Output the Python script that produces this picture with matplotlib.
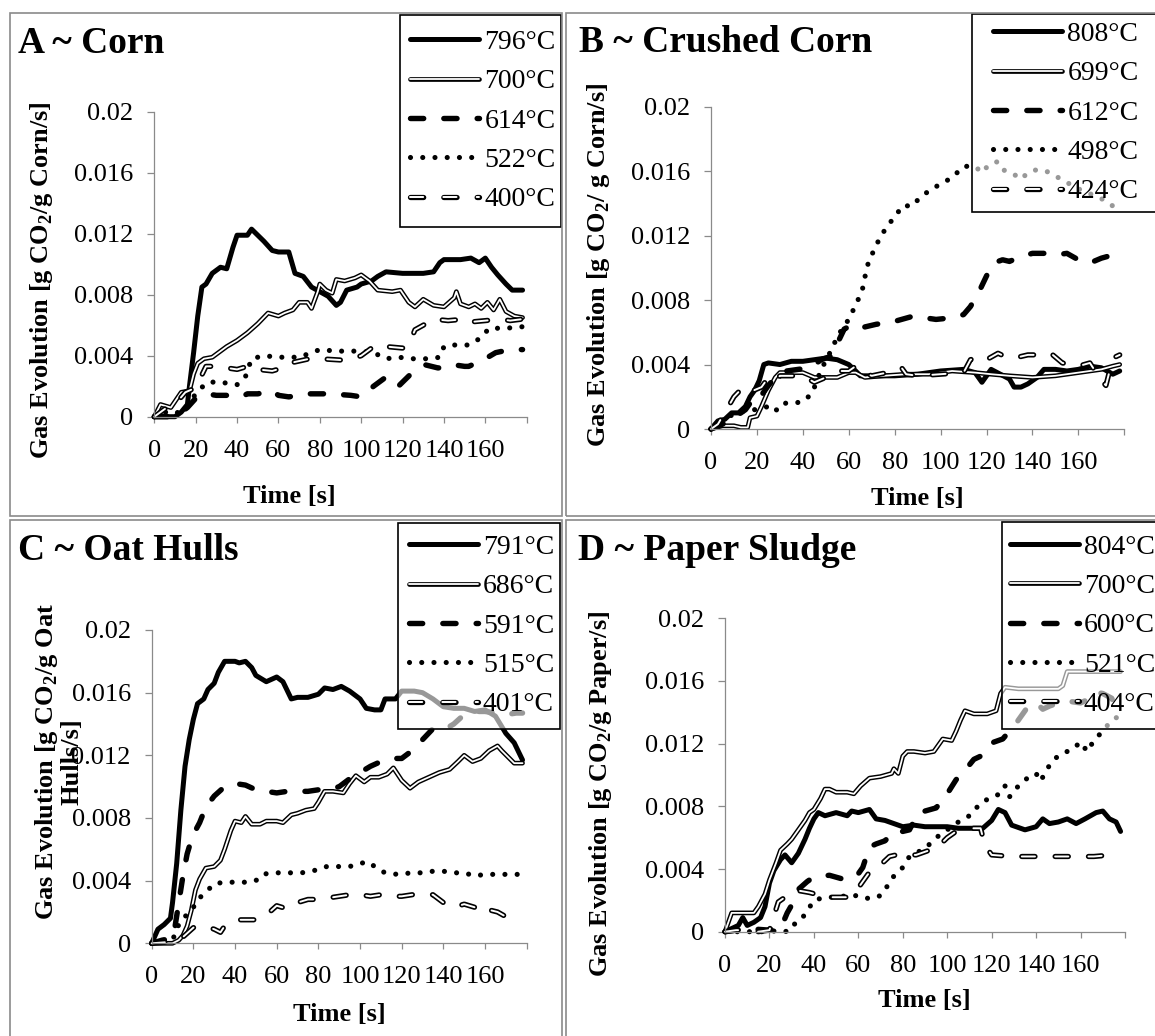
import matplotlib
matplotlib.use("Agg")
import matplotlib.pyplot as plt
from matplotlib.lines import Line2D
from matplotlib.patches import Rectangle
from matplotlib.legend_handler import HandlerTuple

plt.rcParams['font.family'] = ['Liberation Serif', 'DejaVu Serif']
plt.rcParams['mathtext.fontset'] = 'custom'
plt.rcParams['mathtext.rm'] = 'Liberation Serif'
plt.rcParams['mathtext.bf'] = 'Liberation Serif:bold'
plt.rcParams['lines.scale_dashes'] = False

# ---------------- data ----------------
# Panel A - Corn
A796_t = [0, 5, 10, 13, 16, 17, 19, 21, 23, 25, 28, 32, 35, 38, 40, 45, 47, 50, 53, 57, 60, 65, 68, 72, 76, 80, 84, 88, 90, 93, 98, 100, 105, 108, 112, 120, 130, 135, 138, 140, 148, 153, 157, 160, 163, 166, 170, 173, 178]
A796_v = [0, 0, 0, 0.0003, 0.0008, 0.002, 0.0042, 0.0066, 0.0085, 0.0087, 0.0094, 0.0098, 0.0097, 0.0111, 0.0119, 0.0119, 0.0123, 0.0119, 0.0115, 0.0109, 0.0108, 0.0108, 0.0094, 0.0092, 0.0085, 0.0082, 0.0079, 0.0073, 0.0075, 0.0083, 0.0085, 0.0087, 0.0089, 0.0092, 0.0095, 0.0094, 0.0094, 0.0095, 0.0101, 0.0103, 0.0103, 0.0104, 0.0101, 0.0104, 0.0098, 0.0093, 0.0087, 0.0083, 0.0083]
A700_t = [0, 3, 8, 10, 13, 17, 19, 21, 24, 28, 31, 35, 40, 45, 50, 55, 60, 63, 67, 70, 74, 76, 79, 80, 83, 86, 88, 92, 97, 100, 104, 108, 115, 119, 123, 126, 130, 135, 140, 145, 146, 148, 152, 155, 158, 161, 164, 167, 170, 174, 178]
A700_v = [0, 0.0008, 0.0006, 0.001, 0.0016, 0.0017, 0.0028, 0.0035, 0.0038, 0.0039, 0.0042, 0.0046, 0.005, 0.0055, 0.0061, 0.0068, 0.0066, 0.0068, 0.007, 0.0075, 0.0075, 0.0071, 0.0082, 0.0087, 0.0083, 0.0081, 0.009, 0.0089, 0.0091, 0.0093, 0.0089, 0.0083, 0.0082, 0.0083, 0.0075, 0.0072, 0.0077, 0.0073, 0.0072, 0.0078, 0.0082, 0.0074, 0.0072, 0.0074, 0.0071, 0.0075, 0.007, 0.0077, 0.0069, 0.0066, 0.0065]
A614_t = [0, 8, 12, 16, 20, 25, 30, 35, 42, 45, 50, 57, 60, 65, 75, 85, 95, 100, 106, 112, 115, 118, 124, 131, 137, 140, 145, 150, 152, 160, 165, 172, 178]
A614_v = [0, 0, 0.0002, 0.0006, 0.0012, 0.0015, 0.0014, 0.0014, 0.0013, 0.0015, 0.0015, 0.0017, 0.0014, 0.0013, 0.0015, 0.0015, 0.0014, 0.0013, 0.002, 0.0026, 0.0023, 0.002, 0.0028, 0.0034, 0.0032, 0.0032, 0.0034, 0.0033, 0.0033, 0.0038, 0.0042, 0.0044, 0.0044]
A522_t = [0, 5, 10, 15, 20, 25, 30, 35, 40, 44, 47, 53, 60, 70, 80, 88, 95, 100, 106, 112, 118, 125, 133, 138, 140, 145, 152, 157, 162, 170, 178]
A522_v = [0, 0.0003, 0.0002, 0.0005, 0.0015, 0.0022, 0.0023, 0.0022, 0.0021, 0.0026, 0.0038, 0.004, 0.0039, 0.0039, 0.0044, 0.0043, 0.0043, 0.0043, 0.0042, 0.0038, 0.0039, 0.0038, 0.0038, 0.0039, 0.0046, 0.0047, 0.0047, 0.0051, 0.0058, 0.0058, 0.0059]
A400_t = [0, 5, 10, 15, 20, 25, 30, 40, 45, 50, 57, 62, 65, 75, 80, 92, 96, 100, 107, 112, 120, 123, 126, 130, 135, 142, 150, 152, 160, 167, 172, 178]
A400_v = [0, 0.0005, 0.0008, 0.0016, 0.0019, 0.0033, 0.0033, 0.0031, 0.0033, 0.0031, 0.003, 0.0032, 0.0035, 0.0038, 0.0038, 0.0037, 0.0038, 0.004, 0.0047, 0.0046, 0.0045, 0.0047, 0.0057, 0.006, 0.0064, 0.0063, 0.0064, 0.0062, 0.0063, 0.0064, 0.0063, 0.0064]

# Panel B - Crushed corn
B808_t = [0, 3, 6, 9, 12, 15, 17, 19, 21, 23, 25, 30, 35, 40, 45, 50, 55, 60, 63, 65, 70, 80, 90, 100, 110, 115, 118, 122, 126, 130, 132, 135, 138, 142, 145, 150, 155, 160, 165, 170, 175, 178]
B808_v = [0, 0.0005, 0.0006, 0.001, 0.001, 0.0014, 0.002, 0.0024, 0.003, 0.004, 0.0041, 0.004, 0.0042, 0.0042, 0.0043, 0.0044, 0.0043, 0.004, 0.0036, 0.0033, 0.0033, 0.0033, 0.0034, 0.0036, 0.0037, 0.0035, 0.0029, 0.0037, 0.0034, 0.0031, 0.0026, 0.0026, 0.0028, 0.0032, 0.0037, 0.0037, 0.0036, 0.0037, 0.0039, 0.0038, 0.0034, 0.0036]
B699_t = [0, 5, 10, 13, 16, 17, 20, 22, 25, 28, 30, 35, 40, 45, 50, 55, 60, 63, 67, 75, 85, 95, 105, 115, 122, 130, 140, 150, 160, 170, 175, 178]
B699_v = [0, 0.0002, 0.0002, 0.0001, 0.0001, 0.0007, 0.0008, 0.0014, 0.0024, 0.0032, 0.0035, 0.0035, 0.0035, 0.0032, 0.0032, 0.0032, 0.0035, 0.0035, 0.0032, 0.0033, 0.0034, 0.0034, 0.0036, 0.0035, 0.0034, 0.0033, 0.0032, 0.0033, 0.0035, 0.0037, 0.0039, 0.004]
B612_t = [0, 5, 10, 15, 18, 20, 25, 28, 33, 38, 43, 48, 52, 55, 58, 62, 66, 72, 78, 83, 88, 93, 98, 105, 110, 113, 117, 120, 123, 127, 130, 135, 140, 145, 150, 155, 160, 165, 170, 175, 178]
B612_v = [0, 0.0003, 0.0007, 0.0012, 0.0018, 0.0017, 0.0027, 0.0032, 0.0036, 0.0037, 0.0038, 0.0043, 0.0045, 0.0053, 0.0062, 0.0065, 0.0063, 0.0065, 0.0066, 0.0068, 0.007, 0.0069, 0.0068, 0.0069, 0.0071, 0.0076, 0.0086, 0.0095, 0.0103, 0.0105, 0.0104, 0.0107, 0.0109, 0.0109, 0.0108, 0.0109, 0.0105, 0.0103, 0.0106, 0.0108, 0.0105]
B498_t = [0, 3, 8, 12, 16, 20, 25, 28, 31, 36, 40, 44, 48, 51, 54, 57, 60, 62, 64, 66, 68, 70, 72, 74, 77, 80, 84, 87, 90, 95, 100, 105, 110, 115, 118, 121, 125, 128, 132, 135, 138, 142, 146, 150, 155, 160, 165, 170, 174, 178]
B498_v = [0, 0.0004, 0.0008, 0.001, 0.0012, 0.0012, 0.0014, 0.0011, 0.0016, 0.0016, 0.0017, 0.0022, 0.0037, 0.0045, 0.0054, 0.0062, 0.0068, 0.0074, 0.008, 0.0087, 0.0101, 0.0108, 0.0114, 0.012, 0.0126, 0.0132, 0.0139, 0.0138, 0.0142, 0.0148, 0.0152, 0.0156, 0.0163, 0.0163, 0.0159, 0.0164, 0.0166, 0.016, 0.0158, 0.0155, 0.0159, 0.0161, 0.016, 0.0157, 0.0153, 0.0149, 0.0146, 0.0143, 0.0139, 0.0137]
B424_t = [0, 3, 8, 10, 14, 17, 22, 25, 28, 30, 35, 40, 45, 50, 55, 60, 63, 65, 70, 80, 83, 85, 90, 100, 110, 113, 117, 120, 125, 128, 132, 138, 142, 148, 153, 160, 165, 170, 172, 175, 178]
B424_v = [0, 0.0003, 0.0015, 0.002, 0.0026, 0.0023, 0.0026, 0.0032, 0.003, 0.0033, 0.0033, 0.0033, 0.0029, 0.0032, 0.0036, 0.0036, 0.0039, 0.0036, 0.0033, 0.0036, 0.0038, 0.0034, 0.0033, 0.0034, 0.0035, 0.0043, 0.0045, 0.0043, 0.0047, 0.0045, 0.0044, 0.0046, 0.0046, 0.0047, 0.0041, 0.0039, 0.0041, 0.003, 0.0027, 0.0044, 0.0046]

# Panel C - Oat hulls
C791_t = [0, 3, 6, 9, 10, 12, 14, 16, 18, 20, 22, 25, 27, 30, 32, 35, 40, 42, 45, 48, 50, 55, 60, 63, 67, 70, 75, 80, 83, 87, 91, 95, 100, 103, 107, 110, 112, 117, 120, 126, 130, 135, 140, 145, 150, 155, 160, 165, 170, 174, 178]
C791_v = [0, 0.0009, 0.0012, 0.0016, 0.0026, 0.0051, 0.0085, 0.0113, 0.013, 0.0143, 0.0153, 0.0156, 0.0162, 0.0166, 0.0173, 0.018, 0.018, 0.0179, 0.018, 0.0176, 0.0171, 0.0167, 0.017, 0.0167, 0.0156, 0.0157, 0.0157, 0.0159, 0.0163, 0.0162, 0.0164, 0.0161, 0.0156, 0.015, 0.0149, 0.0149, 0.0156, 0.0156, 0.0161, 0.0161, 0.016, 0.0156, 0.0151, 0.015, 0.015, 0.0148, 0.0149, 0.0145, 0.0134, 0.0128, 0.0117]
C686_t = [0, 10, 13, 15, 17, 19, 21, 23, 26, 30, 33, 35, 38, 40, 43, 45, 48, 52, 55, 60, 63, 67, 70, 74, 78, 80, 83, 87, 92, 95, 98, 102, 105, 109, 113, 116, 120, 124, 128, 133, 138, 143, 147, 150, 154, 158, 162, 166, 168, 171, 174, 178]
C686_v = [0, 0, 0.0002, 0.0005, 0.0011, 0.0021, 0.0034, 0.0041, 0.0048, 0.0049, 0.0053, 0.006, 0.0072, 0.0078, 0.0077, 0.0081, 0.0076, 0.0076, 0.0078, 0.0078, 0.0077, 0.0082, 0.0083, 0.0085, 0.0086, 0.009, 0.0097, 0.0097, 0.0096, 0.0102, 0.0107, 0.0103, 0.0106, 0.0106, 0.0108, 0.0112, 0.0104, 0.0099, 0.0103, 0.0106, 0.0109, 0.0111, 0.0116, 0.012, 0.0116, 0.0118, 0.0123, 0.0126, 0.0123, 0.0119, 0.0115, 0.0115]
C591_t = [0, 5, 9, 11, 13, 15, 17, 19, 21, 23, 26, 30, 35, 40, 45, 50, 55, 60, 65, 70, 75, 80, 85, 90, 95, 100, 105, 110, 115, 120, 125, 130, 135, 140, 145, 150, 155, 160, 165, 170, 175, 178]
C591_v = [0, 0.0002, 0.0003, 0.0009, 0.0026, 0.0043, 0.0057, 0.0066, 0.0072, 0.0077, 0.0087, 0.0094, 0.01, 0.0102, 0.0101, 0.0098, 0.0097, 0.0096, 0.0097, 0.0097, 0.0097, 0.0098, 0.0098, 0.01, 0.0105, 0.0109, 0.0113, 0.0116, 0.0118, 0.0118, 0.0123, 0.013, 0.0137, 0.0136, 0.014, 0.0146, 0.0148, 0.0148, 0.0147, 0.0146, 0.0147, 0.0147]
C515_t = [0, 10, 13, 16, 20, 23, 27, 30, 35, 40, 45, 50, 53, 58, 65, 72, 80, 84, 90, 95, 100, 104, 108, 112, 118, 125, 130, 135, 140, 145, 150, 155, 160, 165, 170, 176]
C515_v = [0, 0.0002, 0.0012, 0.0017, 0.0023, 0.0029, 0.0034, 0.0038, 0.0039, 0.0039, 0.0039, 0.004, 0.0044, 0.0045, 0.0045, 0.0045, 0.0047, 0.0049, 0.0049, 0.0049, 0.0051, 0.0052, 0.0048, 0.0045, 0.0044, 0.0045, 0.0045, 0.0046, 0.0046, 0.0045, 0.0045, 0.0043, 0.0044, 0.0044, 0.0044, 0.0044]
C401_t = [0, 10, 15, 20, 25, 30, 33, 35, 40, 45, 50, 55, 60, 65, 70, 75, 80, 85, 95, 100, 105, 110, 115, 120, 125, 130, 135, 140, 145, 150, 155, 160, 163, 166, 170, 175, 178]
C401_v = [0, 0.0001, 0.0004, 0.001, 0.0011, 0.0009, 0.0007, 0.0011, 0.0015, 0.0015, 0.0015, 0.0018, 0.0024, 0.0022, 0.0026, 0.0028, 0.0028, 0.0029, 0.0031, 0.0031, 0.003, 0.0031, 0.003, 0.003, 0.0031, 0.0031, 0.0031, 0.0026, 0.0023, 0.0025, 0.0023, 0.0025, 0.0021, 0.002, 0.0017, 0.0015, 0.0015]

# Panel D - Paper sludge
D804_t = [0, 3, 6, 8, 10, 13, 16, 18, 20, 22, 25, 27, 30, 33, 36, 38, 40, 42, 45, 50, 55, 57, 60, 65, 68, 72, 76, 80, 85, 90, 95, 100, 105, 110, 116, 120, 123, 126, 129, 135, 140, 143, 146, 150, 154, 158, 162, 167, 170, 173, 176, 178]
D804_v = [0, 0.0002, 0.0004, 0.0009, 0.0004, 0.0006, 0.0009, 0.0016, 0.0031, 0.0039, 0.0046, 0.0049, 0.0044, 0.005, 0.0059, 0.0066, 0.0072, 0.0076, 0.0074, 0.0076, 0.0074, 0.0077, 0.0076, 0.0078, 0.0072, 0.0071, 0.0069, 0.0067, 0.0068, 0.0067, 0.0067, 0.0067, 0.0066, 0.0066, 0.0066, 0.0071, 0.0078, 0.0076, 0.0068, 0.0065, 0.0067, 0.0072, 0.0069, 0.007, 0.0072, 0.0069, 0.0072, 0.0076, 0.0077, 0.0072, 0.007, 0.0064]
D700_t = [0, 3, 8, 13, 15, 18, 20, 23, 25, 28, 30, 33, 36, 38, 40, 43, 45, 47, 50, 55, 58, 61, 65, 70, 75, 76, 78, 80, 82, 85, 90, 94, 98, 102, 104, 106, 108, 112, 118, 122, 124, 126, 132, 140, 150, 152, 154, 160, 170, 178]
D700_v = [0, 0.0012, 0.0012, 0.0012, 0.0016, 0.0024, 0.0033, 0.0044, 0.0052, 0.0056, 0.0059, 0.0065, 0.0071, 0.0076, 0.0078, 0.0085, 0.0091, 0.0091, 0.0089, 0.0089, 0.0088, 0.0093, 0.0098, 0.0099, 0.0101, 0.0104, 0.0101, 0.0112, 0.0115, 0.0115, 0.0114, 0.0115, 0.0123, 0.0122, 0.0128, 0.0135, 0.0141, 0.0139, 0.0139, 0.0141, 0.0152, 0.0156, 0.0155, 0.0155, 0.0155, 0.0157, 0.0166, 0.0166, 0.0166, 0.0166]
D600_t = [0, 10, 20, 25, 28, 30, 33, 37, 40, 47, 52, 55, 60, 62, 65, 68, 72, 76, 80, 83, 87, 90, 95, 100, 104, 108, 112, 115, 118, 121, 125, 128, 131, 134, 137, 140, 143, 146, 150, 155, 160, 163, 166, 170, 174, 176, 178]
D600_v = [0, 0.0002, 0.0001, 0.0002, 0.0012, 0.0017, 0.0027, 0.0032, 0.0035, 0.0036, 0.0034, 0.0033, 0.0037, 0.0041, 0.0054, 0.0056, 0.0058, 0.0064, 0.0064, 0.0065, 0.0076, 0.0077, 0.0079, 0.0088, 0.0097, 0.0103, 0.011, 0.0112, 0.0118, 0.0121, 0.0123, 0.0128, 0.0133, 0.0139, 0.0145, 0.0146, 0.0142, 0.0144, 0.0146, 0.0147, 0.0146, 0.0148, 0.0153, 0.0152, 0.0149, 0.0143, 0.0137]
D521_t = [0, 10, 20, 25, 28, 30, 33, 36, 40, 45, 50, 55, 60, 65, 70, 73, 75, 80, 83, 87, 90, 95, 100, 105, 110, 115, 120, 124, 126, 128, 132, 135, 140, 142, 145, 148, 152, 156, 160, 163, 166, 170, 174, 178]
D521_v = [0, 0, 0, 0.0001, 0, 0.0004, 0.0006, 0.0011, 0.002, 0.0022, 0.0022, 0.0023, 0.0023, 0.0021, 0.0023, 0.0029, 0.0034, 0.0041, 0.0048, 0.0051, 0.0053, 0.006, 0.0065, 0.007, 0.0074, 0.0082, 0.0086, 0.0088, 0.0093, 0.0086, 0.0093, 0.0097, 0.0101, 0.0096, 0.0104, 0.011, 0.0114, 0.0116, 0.0121, 0.0115, 0.0122, 0.0128, 0.0135, 0.0138]
D404_t = [0, 5, 10, 15, 20, 22, 24, 26, 30, 34, 38, 46, 50, 56, 60, 65, 71, 74, 77, 86, 92, 95, 100, 105, 110, 115, 117, 120, 129, 139, 148, 157, 166, 174, 178]
D404_v = [0, 0.0001, 0.0001, 0, 0.0001, 0.001, 0.0019, 0.0021, 0.0026, 0.0026, 0.0025, 0.0022, 0.0022, 0.0022, 0.0028, 0.0038, 0.0044, 0.0048, 0.0049, 0.0049, 0.0052, 0.0053, 0.006, 0.0065, 0.0066, 0.0066, 0.0055, 0.0049, 0.0048, 0.0048, 0.0048, 0.0048, 0.0048, 0.0049, 0.0049]

titles = ["A ~ Corn", "B ~ Crushed Corn", "C ~ Oat Hulls", "D ~ Paper Sludge"]
ylabels = ["Gas Evolution [g CO$_\\mathbf{2}$/g Corn/s]",
           "Gas Evolution [g CO$_\\mathbf{2}$/ g Corn/s]",
           "Gas Evolution [g CO$_\\mathbf{2}$/g Oat\nHulls/s]",
           "Gas Evolution [g CO$_\\mathbf{2}$/g Paper/s]"]
legend_labels = [["796°C", "700°C", "614°C", "522°C", "400°C"],
                 ["808°C", "699°C", "612°C", "498°C", "424°C"],
                 ["791°C", "686°C", "591°C", "515°C", "401°C"],
                 ["804°C", "700°C", "600°C", "521°C", "404°C"]]
series = [[(A796_t, A796_v), (A700_t, A700_v), (A614_t, A614_v), (A522_t, A522_v), (A400_t, A400_v)],
          [(B808_t, B808_v), (B699_t, B699_v), (B612_t, B612_v), (B498_t, B498_v), (B424_t, B424_v)],
          [(C791_t, C791_v), (C686_t, C686_v), (C591_t, C591_v), (C515_t, C515_v), (C401_t, C401_v)],
          [(D804_t, D804_v), (D700_t, D700_v), (D600_t, D600_v), (D521_t, D521_v), (D404_t, D404_v)]]
yticks = [0, 0.004, 0.008, 0.012, 0.016, 0.02]
ytick_labels = ["0", "0.004", "0.008", "0.012", "0.016", "0.02"]
xticks = [0, 20, 40, 60, 80, 100, 120, 140, 160, 180]
xtick_labels = ["0", "20", "40", "60", "80", "100", "120", "140", "160", ""]

# ---------------- layout (pixels) ----------------
W, H = 1155, 1036
fig = plt.figure(figsize=(W / 100, H / 100), dpi=100)

def fx(x):
    return x / W

def fy(y):
    return 1 - y / H

axes_px = [(154.3, 111.7, 526.7, 416.7),
           (711.0, 106.7, 1124.3, 429.0),
           (151.7, 630.0, 526.7, 943.3),
           (725.0, 618.3, 1125.0, 931.7)]
panel_px = [(10, 13, 561.7, 516), (565.7, 13, 1162, 516),
            (10, 520, 561.7, 1042), (565.7, 520, 1162, 1042)]
title_px = [(18, 53), (579, 52), (18, 560), (578, 560)]
ylabel_px = [(42, 280), (599, 265), (58, 762), (601, 794)]
xlabel_px = [(289, 497), (917, 498), (339, 1015), (924, 1001)]
legend_box_px = [(400, 15, 561, 227), (972, 14, 1162, 212),
                 (398, 523, 560, 729), (1002, 522, 1162, 729)]
legend_handle_x = [410, 993, 408.5, 1009.5]

GRAY = '#8a8a8a'
DASH = (9.5, 14.5)
DOT = (0.01, 8.8)


def style_lines(kind):
    if kind == 0:
        return [dict(color='k', lw=3.6, solid_capstyle='round', solid_joinstyle='round')]
    if kind == 1:
        return [dict(color='k', lw=3.4, solid_capstyle='round', solid_joinstyle='round'),
                dict(color='w', lw=1.3, solid_capstyle='round', solid_joinstyle='round')]
    if kind == 2:
        return [dict(color='k', lw=3.9, dashes=DASH, dash_capstyle='round', dash_joinstyle='round')]
    if kind == 3:
        return [dict(color='k', lw=3.7, dashes=DOT, dash_capstyle='round')]
    return [dict(color='k', lw=3.8, dashes=DASH, dash_capstyle='round', dash_joinstyle='round'),
            dict(color='w', lw=1.4, dashes=DASH, dash_capstyle='round', dash_joinstyle='round')]


for i in range(4):
    x0, y0, x1, y1 = axes_px[i]
    ax = fig.add_axes([fx(x0), fy(y1), (x1 - x0) / W, (y1 - y0) / H])
    ax.set_facecolor('none')
    for k, (t, v) in enumerate(series[i]):
        for props in style_lines(k):
            ax.plot(t, v, clip_on=False, **props)
    ax.set_xlim(0, 180)
    ax.set_ylim(0, 0.02)
    ax.set_xticks(xticks)
    ax.set_xticklabels(xtick_labels)
    ax.set_yticks(yticks)
    ax.set_yticklabels(ytick_labels)
    for s in ['top', 'right']:
        ax.spines[s].set_visible(False)
    for s in ['left', 'bottom']:
        ax.spines[s].set_color(GRAY)
        ax.spines[s].set_linewidth(0.9)
    ax.tick_params(axis='both', colors=GRAY, labelcolor='black', labelsize=19, width=0.9)
    ax.tick_params(axis='y', length=5, pad=10)
    ax.tick_params(axis='x', length=4, pad=12.5)

    # panel border
    px0, py0, px1, py1 = panel_px[i]
    fig.patches.append(Rectangle((fx(px0), fy(py1)), (px1 - px0) / W, (py1 - py0) / H,
                                 transform=fig.transFigure, fill=False, edgecolor=GRAY,
                                 lw=1.2, zorder=10))
    # texts
    fig.text(fx(title_px[i][0]), fy(title_px[i][1]), titles[i], fontsize=27,
             fontweight='bold', va='baseline', ha='left')
    fig.text(fx(ylabel_px[i][0]), fy(ylabel_px[i][1]), ylabels[i], fontsize=19,
             fontweight='bold', rotation=90, ha='center', va='center',
             multialignment='center', linespacing=1.0)
    fig.text(fx(xlabel_px[i][0]), fy(xlabel_px[i][1]), "Time [s]", fontsize=19,
             fontweight='bold', ha='center', va='center')

    # legend box (semi-transparent white)
    lx0, ly0, lx1, ly1 = legend_box_px[i]
    fig.patches.append(Rectangle((fx(lx0), fy(ly1)), (lx1 - lx0) / W, (ly1 - ly0) / H,
                                 transform=fig.transFigure, facecolor=(1, 1, 1, 0.6),
                                 edgecolor='black', lw=1.2, zorder=4.9))
    handles = []
    for k in range(5):
        parts = tuple(Line2D([], [], **p) for p in style_lines(k))
        handles.append(parts)
    leg = fig.legend(handles, legend_labels[i], loc='center left',
                     bbox_to_anchor=(fx(legend_handle_x[i]), fy((ly0 + ly1) / 2)),
                     bbox_transform=fig.transFigure, frameon=False,
                     fontsize=20, handlelength=2.5, handletextpad=0.18,
                     labelspacing=0.5, borderpad=0, borderaxespad=0,
                     handler_map={tuple: HandlerTuple(ndivide=1)})
    leg.set_zorder(5)

fig.savefig('out.png', dpi=100)
